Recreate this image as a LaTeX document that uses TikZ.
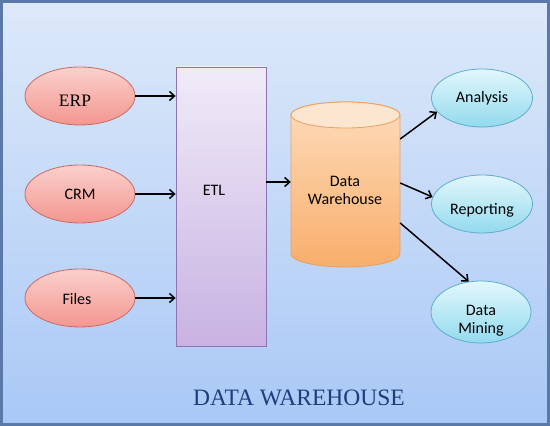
\documentclass[tikz,border=0pt]{standalone}
\usepackage{fontspec}
\setmainfont{Carlito}
\newfontfamily\serifm{Liberation Serif}
\usetikzlibrary{arrows.meta,shapes.geometric}
\definecolor{bgtop}{HTML}{DDE9F9}
\definecolor{bgbot}{HTML}{A9C8F6}
\definecolor{frame}{HTML}{5A78A8}
\definecolor{pinktop}{HTML}{FBD0CC}
\definecolor{pinkbot}{HTML}{F3968F}
\definecolor{pinkline}{HTML}{C86A66}
\definecolor{cyantop}{HTML}{E2F7FC}
\definecolor{cyanbot}{HTML}{93DAEE}
\definecolor{cyanline}{HTML}{5EAECB}
\definecolor{lavtop}{HTML}{F0EBF8}
\definecolor{lavbot}{HTML}{C8B2E2}
\definecolor{lavline}{HTML}{8C74B2}
\definecolor{orgtop}{HTML}{FDDCBA}
\definecolor{orgbot}{HTML}{F9AE6C}
\definecolor{orgend}{HTML}{FDE6CF}
\definecolor{orgline}{HTML}{EE9E5E}
\definecolor{titleblue}{HTML}{1F3D7A}
\tikzset{
  txt/.style={font=\fontsize{16}{18}\selectfont},
  srcell/.style={ellipse, draw=pinkline, line width=0.8pt, top color=pinktop, bottom color=pinkbot,
    minimum width=110pt, minimum height=58pt, inner sep=0pt, txt},
  outell/.style={ellipse, draw=cyanline, line width=0.8pt, top color=cyantop, bottom color=cyanbot,
    minimum width=101pt, minimum height=58pt, inner sep=0pt, align=center, txt},
  arr/.style={line width=1.5pt, -{Straight Barb[length=5pt,width=9pt]}},
}
\begin{document}
\begin{tikzpicture}[x=1pt,y=1pt]
\useasboundingbox (0,0) rectangle (550,426);
% background
\shade[top color=bgtop, bottom color=bgbot] (0,0) rectangle (550,426);
\draw[frame, line width=3pt] (1.5,1.5) rectangle (548.5,424.5);
% sources
\node[srcell, label={[xshift=-5pt,yshift=-5pt,font=\serifm\fontsize{17.5}{20}\selectfont]center:ERP}] (erp) at (80,330) {};
\node[srcell] (crm) at (80,232) {CRM};
\node[srcell, label={[xshift=-3pt,yshift=-1pt,txt]center:Files}] (files) at (80,128) {};
% ETL
\node[draw=lavline, line width=0.8pt, top color=lavtop, bottom color=lavbot, rectangle,
  minimum width=90pt, minimum height=279pt, inner sep=0pt,
  label={[xshift=-7pt,yshift=16pt,txt]center:ETL}] (etl) at (221,219.5) {};
% cylinder
\shade[top color=orgtop, bottom color=orgbot, draw=orgline, line width=0.8pt]
  (291,311) -- (291,172) arc (180:360:54.5 and 13) -- (400,311) arc (0:180:54.5 and 13) -- cycle;
\draw[orgline, fill=orgend, line width=0.8pt] (345.5,311) ellipse (54.5 and 13);
\node[minimum width=109pt, minimum height=140pt, inner sep=0pt] (dw) at (345.5,241.5) {};
\node[align=center, txt] (dwt) at (345,236) {Data\\Warehouse};
% outputs
\node[outell] (ana) at (482,328) {Analysis};
\node[outell, label={[yshift=-6pt,txt]center:Reporting}] (rep) at (482,222) {};
\node[outell, minimum width=100pt, minimum height=62pt,
  label={[yshift=-9pt,align=center,txt]center:{Data\\Mining}}] (dm) at (481,114) {};
% arrows
\draw[arr] (erp.east) -- (erp.east -| etl.west);
\draw[arr] (crm.east) -- (crm.east -| etl.west);
\draw[arr] (files.east) -- (files.east -| etl.west);
\draw[arr] ([yshift=2.5pt]etl.east |- dw.center) -- ([yshift=2.5pt]dw.west);
\draw[arr] ([yshift=45.5pt]dw.east) -- (ana.197);
\draw[arr] ([yshift=1.5pt]dw.east) -- (rep.172);
\draw[arr] ([yshift=-38.5pt]dw.east) -- (dm.112);
% title
\node[font=\serifm\fontsize{23.5}{26}\selectfont, text=titleblue] (title) at (299,28) {DATA WAREHOUSE};
\end{tikzpicture}
\end{document}
